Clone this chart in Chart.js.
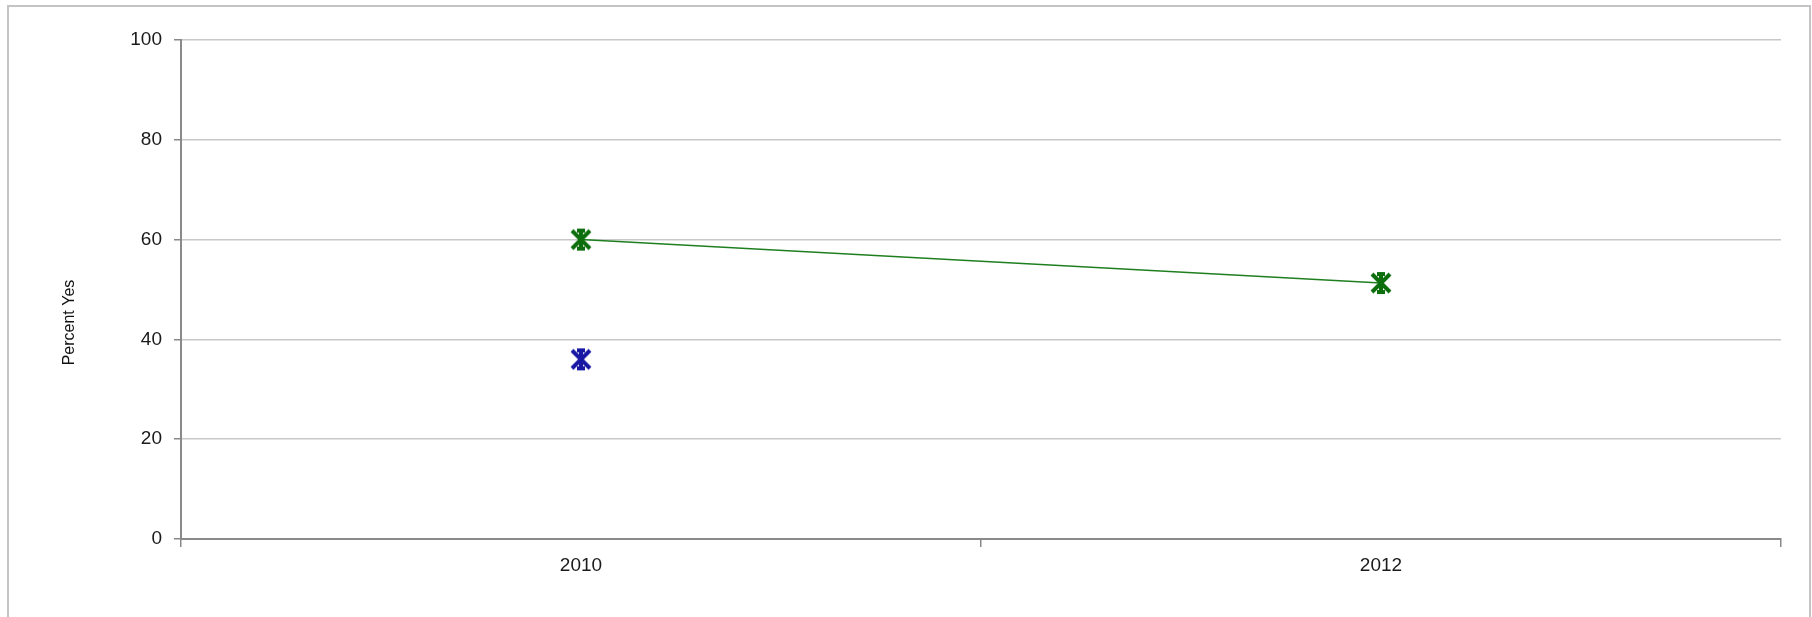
<!DOCTYPE html>
<html>
<head>
<meta charset="utf-8">
<style>
  html, body { margin: 0; padding: 0; background: #fff; }
  #wrap { width: 1812px; height: 617px; }
</style>
<script src="https://cdn.jsdelivr.net/npm/chart.js@4/dist/chart.umd.min.js"></script>
</head>
<body>
<div id="wrap"><canvas id="chart" width="1812" height="617"></canvas></div>
<script>
const years = ["2010", "2012"];
const greenValues = [60, 51.3];
const blueValues = [36, null];
const yTicks = [0, 20, 40, 60, 80, 100];

const greenColor = '#0c6e0c';
const blueColor = '#1717a3';

// excel-ish star marker: X + vertical bar with little caps
function starMarker(color) {
  const c = document.createElement('canvas');
  c.width = 26;
  c.height = 26;
  const g = c.getContext('2d');
  g.strokeStyle = color;
  g.lineWidth = 4;
  g.lineCap = 'butt';
  g.beginPath();
  g.moveTo(4, 4); g.lineTo(22, 22);
  g.moveTo(22, 4); g.lineTo(4, 22);
  g.moveTo(13, 2); g.lineTo(13, 24);
  g.moveTo(9, 4); g.lineTo(17, 4);
  g.moveTo(9, 22); g.lineTo(17, 22);
  g.stroke();
  return c;
}

const frame = {
  id: 'frame',
  beforeDraw(chart) {
    const g = chart.ctx;
    g.save();
    g.fillStyle = '#fff';
    g.fillRect(0, 0, chart.width, chart.height);
    g.strokeStyle = '#c4c4c4';
    g.lineWidth = 2;
    g.strokeRect(8, 6, 1802, 700);
    g.restore();
  },
  afterDraw(chart) {
    const a = chart.chartArea;
    const g = chart.ctx;
    g.save();
    g.fillStyle = '#111';
    g.font = '16px "Liberation Sans", Arial, sans-serif';
    g.textAlign = 'center';
    g.textBaseline = 'middle';
    g.translate(70, (a.top + a.bottom) / 2 + 33);
    g.rotate(-Math.PI / 2);
    g.fillText('Percent Yes', 0, 0);
    g.restore();
  }
};

new Chart(document.getElementById('chart'), {
  type: 'line',
  data: {
    labels: years,
    datasets: [{
      data: greenValues,
      borderColor: '#1f7f1f',
      borderWidth: 1.5,
      pointStyle: starMarker(greenColor),
      pointRadius: 12
    }, {
      data: blueValues,
      borderColor: blueColor,
      borderWidth: 1.5,
      pointStyle: starMarker(blueColor),
      pointRadius: 12
    }]
  },
  options: {
    responsive: false,
    animation: false,
    layout: { padding: { top: 40, right: 31, left: 0, bottom: 0 } },
    plugins: { legend: { display: false }, tooltip: { enabled: false } },
    scales: {
      x: {
        offset: true,
        grid: {
          offset: true,
          color: ctx => ctx.index === 2 ? '#cccccc' : 'rgba(0,0,0,0)',
          tickColor: '#888',
          tickLength: 8,
          lineWidth: 1.5
        },
        border: { color: '#8a8a8a', width: 2 },
        ticks: { color: '#1a1a1a', font: { family: '"Liberation Sans", Arial', size: 19 }, padding: 7 },
        afterFit: s => { s.height = 78; }
      },
      y: {
        min: 0,
        max: 100,
        afterBuildTicks: s => { s.ticks = yTicks.map(v => ({ value: v })); },
        grid: { color: '#c8c8c8', tickColor: '#888', tickLength: 7, lineWidth: 1.5 },
        border: { color: '#8a8a8a', width: 2 },
        ticks: { color: '#1a1a1a', font: { family: '"Liberation Sans", Arial', size: 19 }, padding: 12 },
        afterFit: s => { s.width = 181; }
      }
    }
  },
  plugins: [frame]
});
</script>
</body>
</html>
